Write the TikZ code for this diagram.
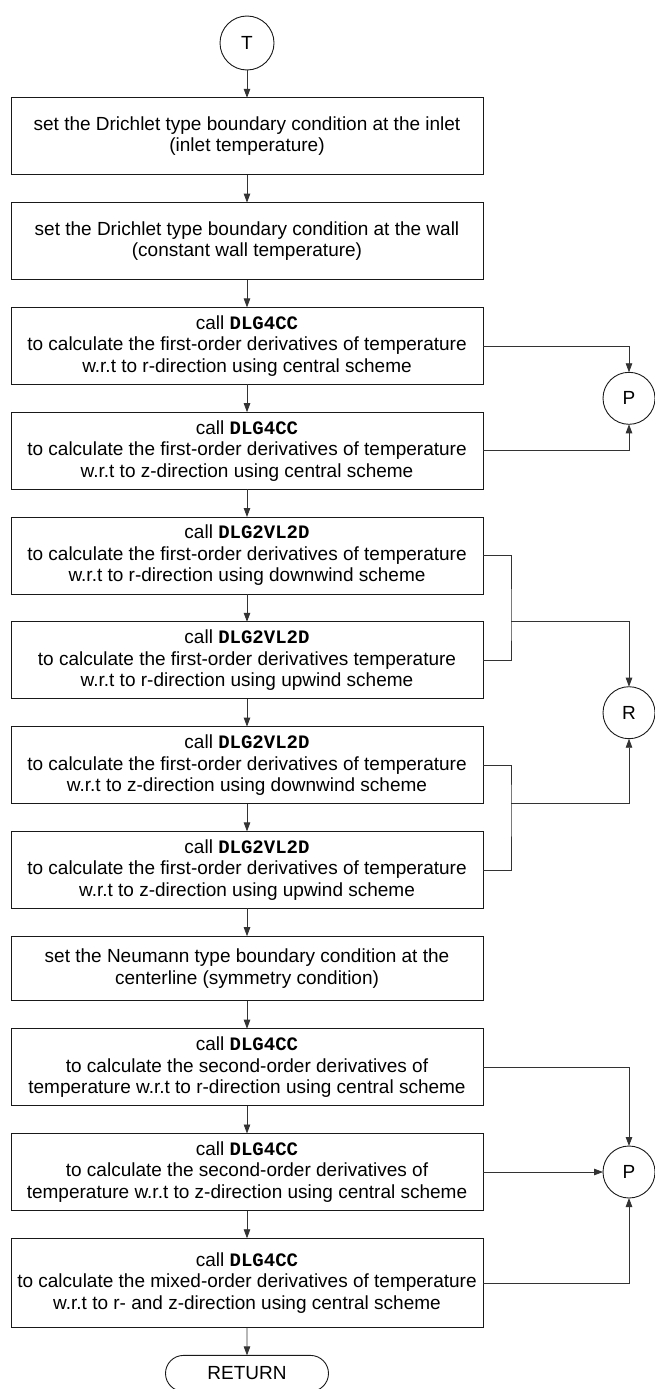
\documentclass[tikz,border=0pt]{standalone}
\usepackage{fontspec}
\setmainfont{Liberation Sans}
\setmonofont{Liberation Mono}
\usetikzlibrary{positioning,calc,arrows.meta,shapes.misc}
\newcommand{\routine}[1]{\texttt{\bfseries #1}}
\begin{document}
\begin{tikzpicture}[x=1pt,y=-1pt,
  every node/.style={font=\fontsize{19}{21.5}\selectfont,outer sep=0pt},
  stepbox/.style={draw=black!90,line width=0.9pt,rectangle,align=center,
    minimum width=472pt,minimum height=77pt,inner sep=0pt},
  shortbox/.style={stepbox,minimum height=64.7pt},
  tallbox/.style={stepbox,minimum height=89.3pt},
  connector/.style={draw=black!90,line width=0.9pt,minimum size=52pt,circle,inner sep=0pt},
  terminal/.style={draw=black!90,line width=0.9pt,rounded rectangle,minimum width=163pt,minimum height=36pt,inner sep=0pt},
  flow/.style={draw=black!80,line width=0.8pt},
  arr/.style={flow,-{Triangle[length=9pt,width=6.5pt]}},
  node distance=27.8pt]
\useasboundingbox (0,0) rectangle (655,1389);

% entry connector
\node[connector,minimum size=54pt] (T) at (247,43) {T};

% main column of steps
\node[stepbox,below=of T] (b1) {set the Drichlet type boundary condition at the inlet\\(inlet temperature)};
\node[stepbox,below=of b1] (b2) {set the Drichlet type boundary condition at the wall\\(constant wall temperature)};
\node[stepbox,below=of b2] (b3) {call \routine{DLG4CC}\\to calculate the first-order derivatives of temperature\\w.r.t to r-direction using central scheme};
\node[stepbox,below=of b3] (b4) {call \routine{DLG4CC}\\to calculate the first-order derivatives of temperature\\w.r.t to z-direction using central scheme};
\node[stepbox,below=of b4] (b5) {call \routine{DLG2VL2D}\\to calculate the first-order derivatives of temperature\\w.r.t to r-direction using downwind scheme};
\node[stepbox,below=of b5] (b6) {call \routine{DLG2VL2D}\\to calculate the first-order derivatives temperature\\w.r.t to r-direction using upwind scheme};
\node[stepbox,below=of b6] (b7) {call \routine{DLG2VL2D}\\to calculate the first-order derivatives of temperature\\w.r.t to z-direction using downwind scheme};
\node[stepbox,below=of b7] (b8) {call \routine{DLG2VL2D}\\to calculate the first-order derivatives of temperature\\w.r.t to z-direction using upwind scheme};
\node[shortbox,below=of b8] (b9) {set the Neumann type boundary condition at the\\centerline (symmetry condition)};
\node[stepbox,below=of b9] (b10) {call \routine{DLG4CC}\\to calculate the second-order derivatives of\\temperature w.r.t to r-direction using central scheme};
\node[stepbox,below=of b10] (b11) {call \routine{DLG4CC}\\to calculate the second-order derivatives of\\temperature w.r.t to z-direction using central scheme};
\node[tallbox,below=of b11] (b12) {call \routine{DLG4CC}\\to calculate the mixed-order derivatives of temperature\\w.r.t to r- and z-direction using central scheme};
\node[terminal,below=of b12] (ret) {RETURN};

% side connectors
\coordinate (px) at (629,0);
\coordinate (g34) at ($(b3.south)!0.5!(b4.north)$);
\coordinate (g67) at ($(b6.south)!0.5!(b7.north)$);
\node[connector] (P1) at (g34 -| px) {P};
\node[connector] (R) at (g67 -| px) {R};
\node[connector] (P2) at (b11 -| px) {P};

% main flow
\draw[arr] (T) -- (b1);
\foreach \a/\b in {b1/b2,b2/b3,b3/b4,b4/b5,b5/b6,b6/b7,b7/b8,b8/b9,b9/b10,b10/b11,b11/b12,b12/ret}
  \draw[arr] (\a) -- (\b);

% first-derivative central branch
\draw[arr] (b3.east) -| (P1.north);
\draw[arr] (b4.east) -| (P1.south);

% upwind/downwind branch
\path (b6.north east) ++(28,0) coordinate (jtop);
\path (b7.south east) ++(28,0) coordinate (jbot);
\draw[flow] (b5.east) -| (jtop) |- (b6.east);
\draw[arr] (jtop) -| (R.north);
\draw[flow] (b7.east) -| (jbot) |- (b8.east);
\draw[arr] (jbot) -| (R.south);

% second-derivative branch
\draw[arr] (b10.east) -| (P2.north);
\draw[arr] (b11.east) -- (P2.west);
\draw[arr] (b12.east) -| (P2.south);
\end{tikzpicture}
\end{document}
